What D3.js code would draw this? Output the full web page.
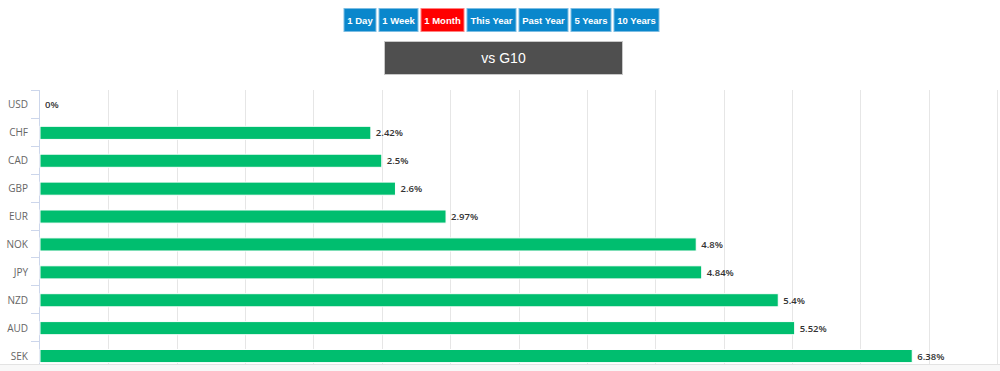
<!DOCTYPE html>
<html>
<head>
<meta charset="utf-8">
<script src="https://cdn.jsdelivr.net/npm/d3@7"></script>
<style>
  body { margin: 0; background: #fff; }
  #svg-container { width: 1000px; height: 371px; overflow: hidden; }
  .btn-text { font-family: "Liberation Sans", Arial, sans-serif; font-size: 9.5px; font-weight: bold; fill: #fff; }
  .cat-label { font-family: "Open Sans", sans-serif; font-size: 10px; fill: #666; }
  .val-label { font-family: "Open Sans", sans-serif; font-size: 9.5px; font-weight: 600; fill: #333; }
</style>
</head>
<body>
<div id="svg-container"></div>
<script>
////////////////////////////  Data  ////////////////////////////
const currencies = ["USD", "CHF", "CAD", "GBP", "EUR", "NOK", "JPY", "NZD", "AUD", "SEK"];
const changes = [0, 2.42, 2.5, 2.6, 2.97, 4.8, 4.84, 5.4, 5.52, 6.38];
const periods = ["1 Day", "1 Week", "1 Month", "This Year", "Past Year", "5 Years", "10 Years"];
const activePeriod = "1 Month";
const title = "vs G10";

const width = 1000;
const height = 371;
const margin = { top: 91, right: 3, bottom: 0, left: 40 };

const svg = d3
  .select("#svg-container")
  .append("svg")
  .attr("width", width)
  .attr("height", height);

////////////////////////////  Buttons  ////////////////////////////
const btnGroup = svg.append("g");
const btnH = 23;
const btnGap = 3;

const btns = btnGroup
  .selectAll("g.btn")
  .data(periods)
  .enter()
  .append("g")
  .attr("class", "btn");

btns
  .append("rect")
  .attr("y", 8.5)
  .attr("height", btnH)
  .attr("fill", (d) => (d === activePeriod ? "#ff0000" : "#0a87cc"))
  .attr("stroke", (d) => (d === activePeriod ? "#ff8080" : "#7cbde3"))
  .attr("stroke-width", 1);

btns
  .append("text")
  .attr("class", "btn-text")
  .attr("y", 8.5 + btnH / 2 + 3.5)
  .attr("text-anchor", "middle")
  .text((d) => d);

// size buttons from their labels, then center the row
let cursor = 0;
btns.each(function () {
  const g = d3.select(this);
  const w = Math.round(g.select("text").node().getComputedTextLength() + 6.5);
  g.select("rect").attr("x", cursor).attr("width", w);
  g.select("text").attr("x", cursor + w / 2);
  cursor += w + btnGap;
});
btnGroup.attr("transform", `translate(${Math.round(501.5 - (cursor - btnGap) / 2)}, 0)`);

// title box
svg
  .append("rect")
  .attr("x", 384.5)
  .attr("y", 41.5)
  .attr("width", 238)
  .attr("height", 33)
  .attr("fill", "#4f4f4f")
  .attr("stroke", "#c8c8c8")
  .attr("stroke-width", 1);

svg
  .append("text")
  .attr("x", 503.5)
  .attr("y", 63)
  .attr("text-anchor", "middle")
  .attr("fill", "#fff")
  .style("font-family", "'Liberation Sans', Arial, sans-serif")
  .style("font-size", "14px")
  .text(title);

////////////////////////////  Scales  ////////////////////////////
const x = d3.scaleLinear().domain([0, 7]).range([margin.left, 997]);

const y = d3
  .scaleBand()
  .domain(currencies)
  .range([margin.top, margin.top + 279])
  .paddingInner(0.53)
  .paddingOuter(0.265);

const slot = d3
  .scaleBand()
  .domain(currencies)
  .range([margin.top, margin.top + 279])
  .padding(0);

////////////////////////////  Grid + axis  ////////////////////////////
svg
  .selectAll("grid-line")
  .data(x.ticks(14).slice(1))
  .enter()
  .append("line")
  .attr("x1", (d) => Math.round(x(d)) + 0.5)
  .attr("x2", (d) => Math.round(x(d)) + 0.5)
  .attr("y1", margin.top - 1)
  .attr("y2", height)
  .attr("stroke", "#e6e6e6")
  .attr("stroke-width", 1);

// category axis line
svg
  .append("line")
  .attr("x1", margin.left - 0.5)
  .attr("x2", margin.left - 0.5)
  .attr("y1", margin.top - 1)
  .attr("y2", height)
  .attr("stroke", "#ccd6eb");

// ticks at band boundaries
const tickPos = currencies.map((d) => slot(d)).concat([slot(currencies[9]) + slot.step()]);
svg
  .selectAll("cat-tick")
  .data(tickPos)
  .enter()
  .append("line")
  .attr("x1", margin.left - 9)
  .attr("x2", margin.left)
  .attr("y1", (d) => Math.round(d) - 0.5)
  .attr("y2", (d) => Math.round(d) - 0.5)
  .attr("stroke", "#ccd6eb");

svg
  .selectAll("cat-label")
  .data(currencies)
  .enter()
  .append("text")
  .attr("class", "cat-label")
  .attr("x", 28)
  .attr("y", (d) => y(d) + y.bandwidth() / 2 + 3.5)
  .attr("text-anchor", "end")
  .text((d) => d);

////////////////////////////  Bars  ////////////////////////////
const rows = currencies.map((c, i) => ({ name: c, value: changes[i] }));

svg
  .selectAll("bar")
  .data(rows)
  .enter()
  .append("rect")
  .attr("x", x(0))
  .attr("y", (d) => y(d.name))
  .attr("width", (d) => x(d.value) - x(0))
  .attr("height", y.bandwidth())
  .attr("fill", "#00be6f")
  .attr("stroke", (d) => (d.value > 0 ? "#ffffff" : "none"))
  .attr("stroke-width", 1);

svg
  .selectAll("val-label")
  .data(rows)
  .enter()
  .append("text")
  .attr("class", "val-label")
  .attr("x", (d) => x(d.value) + 5)
  .attr("y", (d) => y(d.name) + y.bandwidth() / 2 + 3.5)
  .text((d) => d.value + "%");

////////////////////////////  Bottom strip  ////////////////////////////
svg
  .append("rect")
  .attr("x", 0)
  .attr("y", 364)
  .attr("width", width)
  .attr("height", height - 364)
  .attr("fill", "#f8f8f8");

svg
  .append("line")
  .attr("x1", 0)
  .attr("x2", width)
  .attr("y1", 364.5)
  .attr("y2", 364.5)
  .attr("stroke", "#e3e3e3");
</script>
</body>
</html>
